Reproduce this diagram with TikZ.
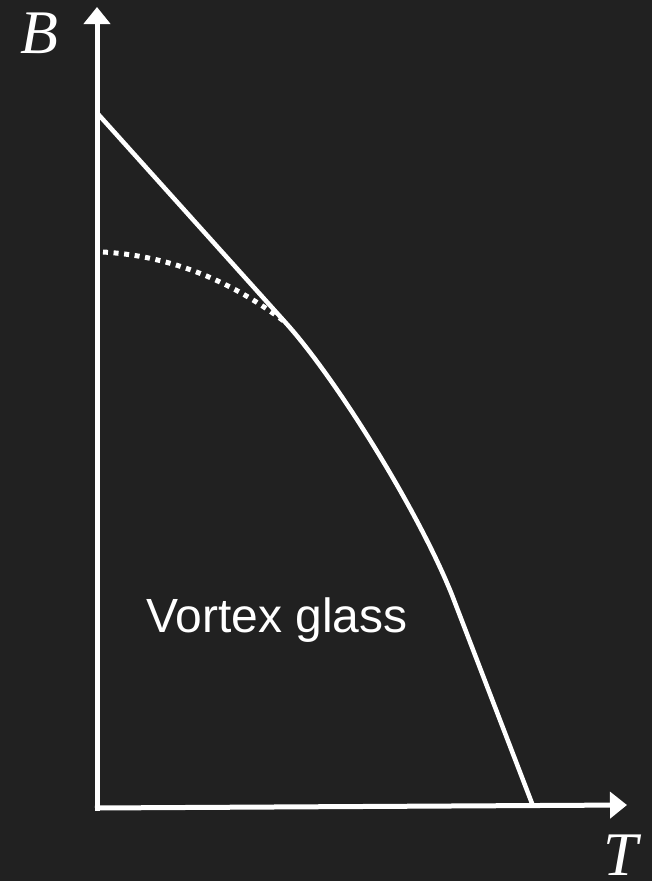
\documentclass[tikz,border=0pt]{standalone}
\usepackage{fontspec}
\setmainfont{Liberation Serif}
\newfontfamily\labelsans{Liberation Sans}
\usetikzlibrary{arrows.meta}
\definecolor{bgdark}{RGB}{33,33,33}
\tikzset{
  axisline/.style={draw=white, line width=5pt, -{Triangle[length=17pt,width=26pt]}},
  curveline/.style={draw=white, line width=4.5pt, line join=round},
  dotline/.style={draw=white, line width=5pt, dash pattern=on 5pt off 5.6pt},
  axislabel/.style={text=white, inner sep=0pt, font=\fontsize{62}{62}\selectfont\itshape},
  regionlabel/.style={text=white, inner sep=0pt, font=\labelsans\fontsize{48}{48}\selectfont}
}
\begin{document}
\begin{tikzpicture}[x=1pt, y=-1pt]
\fill[bgdark] (0,0) rectangle (652,881);
\useasboundingbox (0,0) rectangle (652,881);
\coordinate (origin) at (97,808);
\coordinate (ytop) at (97,7);
\coordinate (xleft) at (95,808);
\coordinate (xright) at (627,805);
\draw[axisline] (97,810.5) -- (ytop);
\draw[axisline] (xleft) -- (xright);
\coordinate (c0) at (98,114);
\coordinate (c1) at (285,322);
\coordinate (c2) at (452,595);
\coordinate (c3) at (533,806);
\draw[curveline] (c0) -- (c1) .. controls (335,377) and (418,510) .. (c2) -- (c3);
\coordinate (d0) at (103,252);
\draw[dotline] (d0) .. controls (170,256) and (230,280) .. (c1);
\node[axislabel, anchor=base west] (blabel) at (20,53) {B};
\node[axislabel, anchor=base west] (tlabel) at (603,875) {T};
\node[regionlabel, anchor=base west] (glass) at (146,632) {Vortex glass};
\end{tikzpicture}
\end{document}
